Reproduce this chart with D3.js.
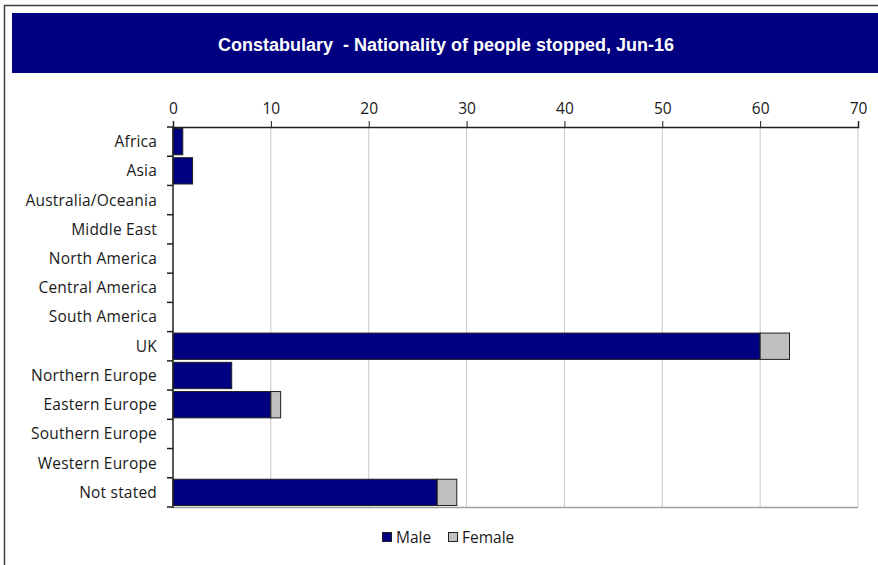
<!DOCTYPE html>
<html>
<head>
<meta charset="utf-8">
<script src="https://cdn.jsdelivr.net/npm/d3@7"></script>
<style>
  body { margin: 0; background: #fff; }
  svg { display: block; }
  text { white-space: pre; }
</style>
</head>
<body>
<svg></svg>
<script>
const width = 878;
const height = 565;

// data
const regions = ['Africa', 'Asia', 'Australia/Oceania', 'Middle East', 'North America',
    'Central America', 'South America', 'UK', 'Northern Europe', 'Eastern Europe',
    'Southern Europe', 'Western Europe', 'Not stated'];
const male = [1, 2, 0, 0, 0, 0, 0, 60, 6, 10, 0, 0, 27];
const female = [0, 0, 0, 0, 0, 0, 0, 3, 0, 1, 0, 0, 2];
const xTicks = [0, 10, 20, 30, 40, 50, 60, 70];
const seriesNames = ['Male', 'Female'];
const seriesColors = ['#000080', '#c0c0c0'];

const title = 'Constabulary  - Nationality of people stopped, Jun-16';

const plot = { left: 173, right: 858, top: 127, bottom: 507 };
const labelFont = '"Open Sans", Lato, sans-serif';
const labelSize = 15.5;

const svg = d3.select('svg')
    .attr('width', width)
    .attr('height', height);

// outer frame
svg.append('rect')
    .attr('x', 4.5).attr('y', 5.5)
    .attr('width', 900).attr('height', 600)
    .attr('fill', 'none')
    .attr('stroke', '#404040')
    .attr('stroke-width', 1.5);

// title band
svg.append('rect')
    .attr('x', 12).attr('y', 13)
    .attr('width', 880).attr('height', 60)
    .attr('fill', '#000080');

svg.append('text')
    .attr('x', 446).attr('y', 51)
    .attr('text-anchor', 'middle')
    .attr('fill', '#ffffff')
    .attr('font-family', '"Liberation Sans Narrow", "Arial Narrow", sans-serif')
    .attr('font-weight', 'bold')
    .attr('font-size', 18)
    .text(title);

const x = d3.scaleLinear().domain([0, 70]).range([plot.left, plot.right]);
const y = d3.scaleBand().domain(regions).range([plot.top, plot.bottom]).paddingInner(0.1).paddingOuter(0.05);

const g = svg.append('g');

// gridlines
g.selectAll('line.grid')
    .data(xTicks.slice(1))
    .enter().append('line')
    .attr('class', 'grid')
    .attr('x1', d => x(d)).attr('x2', d => x(d))
    .attr('y1', plot.top).attr('y2', plot.bottom)
    .attr('stroke', '#c8c8c8')
    .attr('stroke-width', 1);

// plot border bottom
g.append('line')
    .attr('x1', plot.left).attr('x2', plot.right)
    .attr('y1', plot.bottom + 0.5).attr('y2', plot.bottom + 0.5)
    .attr('stroke', '#a0a0a0').attr('stroke-width', 1.5);

// stacked bars
const stackData = regions.map((r, i) => ({ region: r, Male: male[i], Female: female[i] }));
const stacked = d3.stack().keys(seriesNames)(stackData);

g.selectAll('g.series')
    .data(stacked)
    .enter().append('g')
    .attr('class', 'series')
    .attr('fill', (d, i) => seriesColors[i])
    .selectAll('rect')
    .data(d => d.filter(s => s[1] - s[0] > 0))
    .enter().append('rect')
    .attr('x', d => x(d[0]))
    .attr('y', d => y(d.data.region))
    .attr('width', d => x(d[1]) - x(d[0]))
    .attr('height', y.bandwidth())
    .attr('stroke', '#202020')
    .attr('stroke-width', 1);

// top axis
const xAxis = g.append('g')
    .attr('transform', `translate(0,${plot.top})`)
    .call(d3.axisTop(x).tickValues(xTicks).tickSize(6).tickPadding(7));
xAxis.select('.domain').attr('stroke', '#202020').attr('stroke-width', 1.5);
xAxis.selectAll('.tick line').attr('stroke', '#202020');
xAxis.selectAll('text')
    .attr('font-family', labelFont)
    .attr('font-size', labelSize)
    .attr('fill', '#1a1a1a');

// left axis with ticks at category boundaries
const yAxis = g.append('g').attr('transform', `translate(${plot.left},0)`);
yAxis.append('line')
    .attr('x1', 0).attr('x2', 0)
    .attr('y1', plot.top).attr('y2', plot.bottom + 1)
    .attr('stroke', '#202020').attr('stroke-width', 1.5);
const step = (plot.bottom - plot.top) / regions.length;
yAxis.selectAll('line.tick')
    .data(d3.range(regions.length + 1))
    .enter().append('line')
    .attr('class', 'tick')
    .attr('x1', -6).attr('x2', 0)
    .attr('y1', i => plot.top + i * step)
    .attr('y2', i => plot.top + i * step)
    .attr('stroke', '#202020').attr('stroke-width', 1.5);
yAxis.selectAll('text')
    .data(regions)
    .enter().append('text')
    .attr('x', -16)
    .attr('y', d => y(d) + y.bandwidth() / 2)
    .attr('dy', '0.35em')
    .attr('text-anchor', 'end')
    .attr('font-family', labelFont)
    .attr('font-size', labelSize)
    .attr('letter-spacing', 0.2)
    .attr('fill', '#1a1a1a')
    .text(d => d);

// legend
const legendX = [382, 448];
const legend = svg.selectAll('g.legend')
    .data(seriesNames)
    .enter().append('g')
    .attr('class', 'legend')
    .attr('transform', (d, i) => `translate(${legendX[i]},532)`);
legend.append('rect')
    .attr('x', 0.5).attr('y', 0.5)
    .attr('width', 9).attr('height', 9)
    .attr('fill', (d, i) => seriesColors[i])
    .attr('stroke', '#202020');
legend.append('text')
    .attr('x', 14).attr('y', 5)
    .attr('dy', '0.36em')
    .attr('font-family', labelFont)
    .attr('font-size', labelSize)
    .attr('fill', '#1a1a1a')
    .text(d => d);
</script>
</body>
</html>
